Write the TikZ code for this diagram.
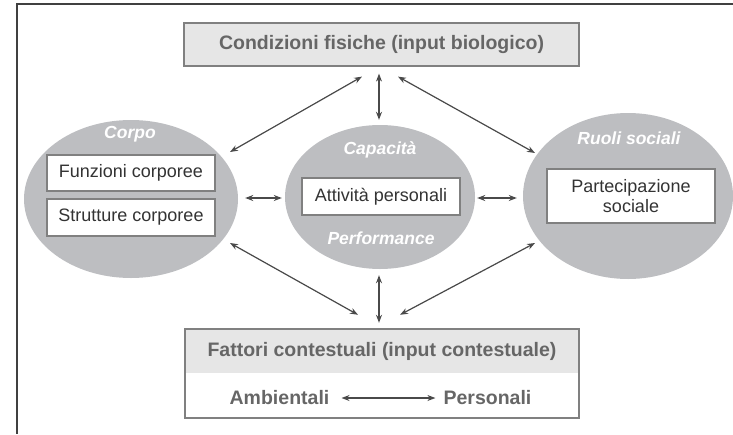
\documentclass[tikz,border=0pt]{standalone}
\usepackage{fontspec}
\setmainfont{Liberation Sans}
\usetikzlibrary{shapes.geometric,arrows.meta,calc}
\definecolor{ellgray}{HTML}{BDBEC1}
\definecolor{hdrgray}{HTML}{E6E6E6}
\definecolor{bordgray}{HTML}{808080}
\definecolor{titlegray}{HTML}{666666}
\definecolor{arrgray}{HTML}{4A4A4A}
\begin{document}
\begin{tikzpicture}[x=1pt,y=-1pt,
 ell/.style={ellipse,fill=ellgray,inner sep=0pt},
 inbox/.style={draw=bordgray,line width=1.2pt,fill=white,inner sep=0pt,align=center,font=\fontsize{18}{20}\selectfont,text=black!80},
 title/.style={font=\fontsize{19.5}{22}\selectfont\bfseries,text=titlegray},
 elab/.style={font=\fontsize{17.5}{20}\selectfont\bfseries\itshape,text=white},
 arr/.style={{Stealth[length=8pt,width=6pt]}-{Stealth[length=8pt,width=6pt]},line width=1.2pt,draw=arrgray,fill=arrgray},
 frame/.style={line width=1.5pt,draw=black!75}]
\useasboundingbox (0,0) rectangle (733,434);
\draw[frame] (733,4) -- (17,4) -- (17,434);
% top box
\node[draw=bordgray,line width=1.2pt,fill=hdrgray,minimum width=395pt,minimum height=43pt,inner sep=0pt,title] (top) at (381.5,44.5) {Condizioni fisiche (input biologico)};
% ellipses
\node[ell,minimum width=214pt,minimum height=158pt] (L) at (131,199) {};
\node[ell,minimum width=190pt,minimum height=144pt] (C) at (380,197) {};
\node[ell,minimum width=210pt,minimum height=166pt] (R) at (628,196) {};
% ellipse labels
\node[elab] (corpo) at (130,134) {Corpo};
\node[elab] (capa) at (380,150) {Capacità};
\node[elab] (perf) at (381,238) {Performance};
\node[elab] (ruoli) at (629,138) {Ruoli sociali};
% inner boxes
\node[inbox,minimum width=168pt,minimum height=36pt] (fun) at (131,173) {Funzioni corporee};
\node[inbox,minimum width=168pt,minimum height=37pt] (str) at (131,217.5) {Strutture corporee};
\node[inbox,minimum width=158pt,minimum height=37pt] (att) at (381,196.5) {Attività personali};
\node[inbox,minimum width=168pt,minimum height=54pt] (par) at (631,196) {Partecipazione\\sociale};
% bottom box
\node[fill=hdrgray,minimum width=394pt,minimum height=44pt,inner sep=0pt,title] (fat) at (382,351) {Fattori contestuali (input contestuale)};
\node[draw=bordgray,line width=1.2pt,minimum width=394pt,minimum height=89pt,inner sep=0pt] (bot) at (382,373.5) {};
\node[title,inner sep=0pt] (amb) at (279.5,398) {Ambientali};
\node[title,inner sep=0pt] (pers) at (487.5,398) {Personali};
\draw[arr,shorten <=12pt,shorten >=8pt] (amb) -- (pers);
% arrows
\draw[arr] ($(top.south)+(-19.5,10)$) -- ($(L.center)+(99,-47)$);
\draw[arr] ($(top.south)+(-2.5,7)$) -- ($(C.north)+(-1,-5)$);
\draw[arr] ($(top.south)+(16.5,10)$) -- ($(R.center)+(-93,-43)$);
\draw[arr] ($(L.east)+(7,-1)$) -- ($(C.west)+(-3,1)$);
\draw[arr] ($(C.east)+(2,1)$) -- ($(R.west)+(-6,2)$);
\draw[arr] ($(fat.north)+(-24,-14)$) -- ($(L.center)+(99,44)$);
\draw[arr] ($(fat.north)+(-3,-6)$) -- ($(C.south)+(-1,6)$);
\draw[arr] ($(fat.north)+(18,-14)$) -- ($(R.center)+(-93,47)$);
\end{tikzpicture}
\end{document}
